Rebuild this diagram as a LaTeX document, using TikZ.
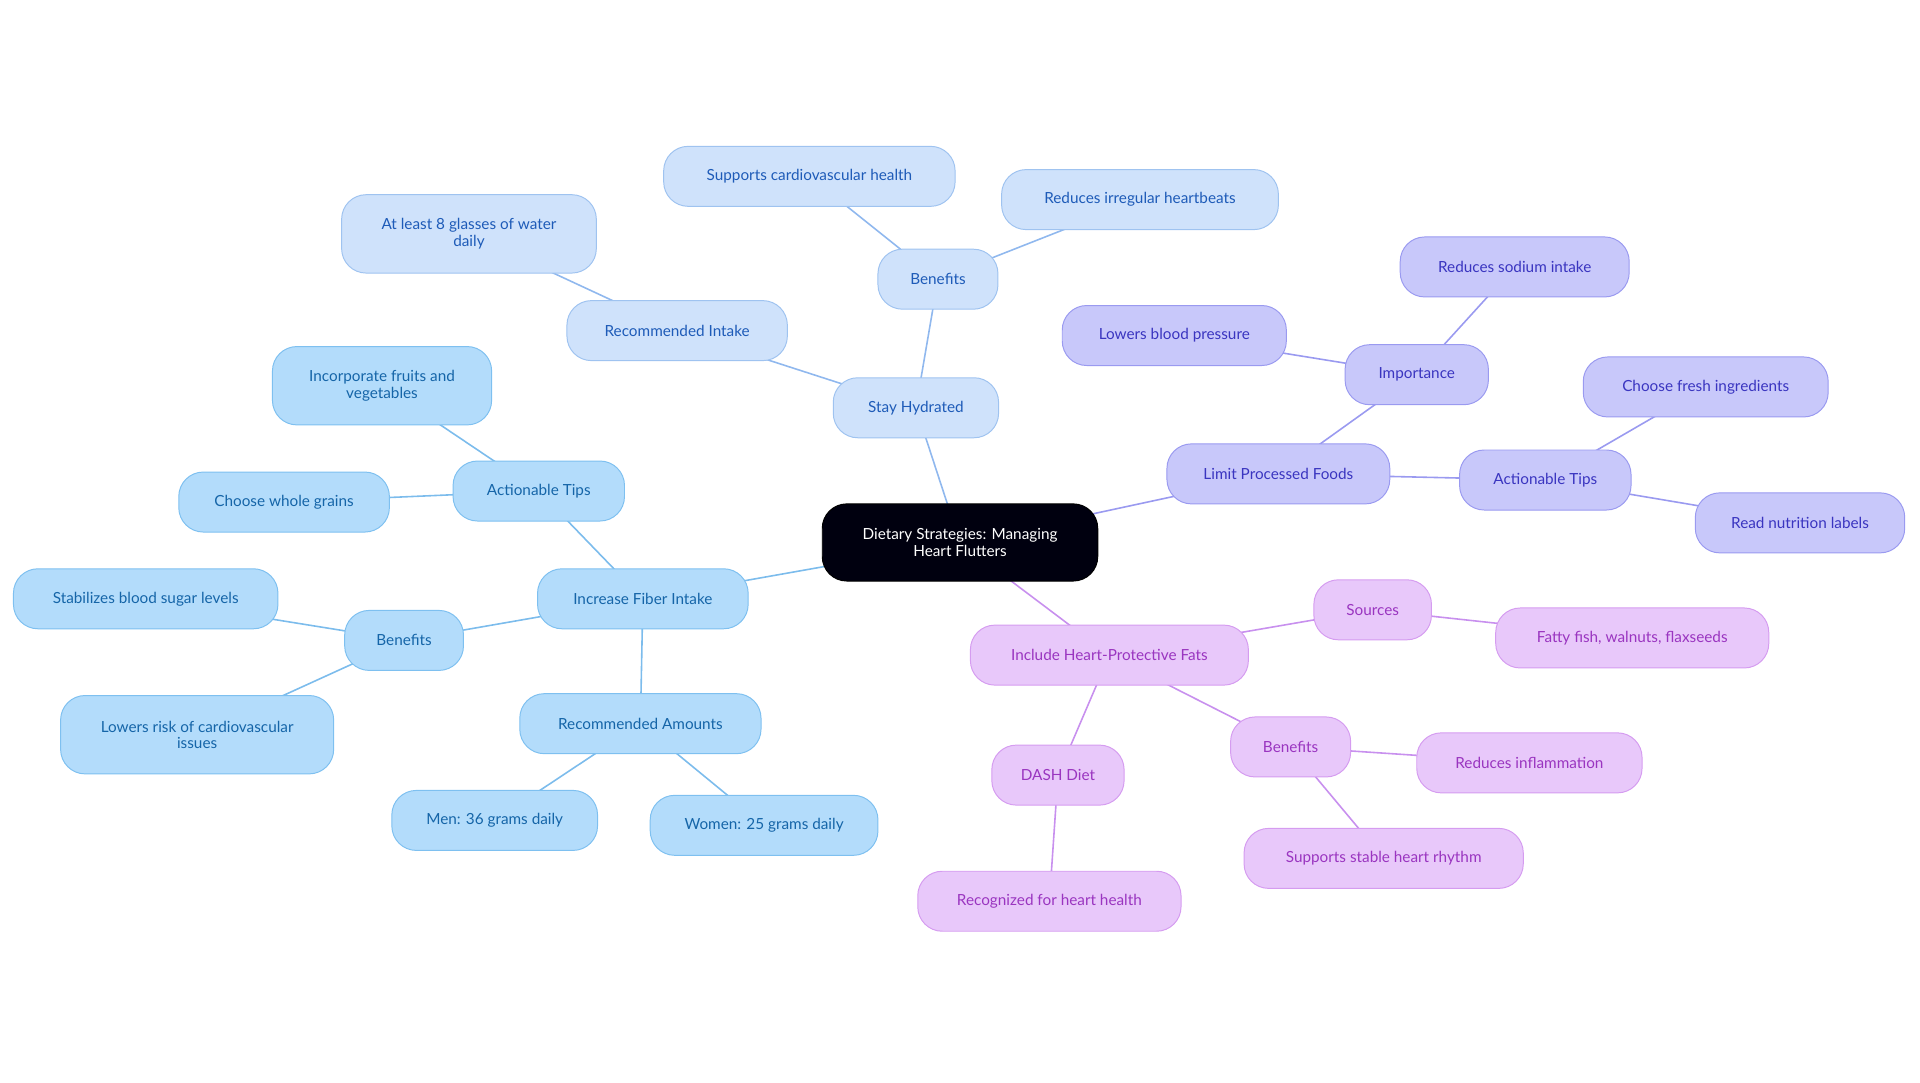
\documentclass[tikz,border=0pt]{standalone}
\usepackage{fontspec}
\setmainfont{Lato}
\usetikzlibrary{backgrounds}
\definecolor{lbF}{HTML}{CFE2FB}\definecolor{lbD}{HTML}{9FC3F0}\definecolor{lbT}{HTML}{1E5BB8}\definecolor{lbE}{HTML}{90B8EE}
\definecolor{skF}{HTML}{B3DCFB}\definecolor{skD}{HTML}{7EC0F0}\definecolor{skT}{HTML}{1565A8}\definecolor{skE}{HTML}{7CBCEC}
\definecolor{puF}{HTML}{C8C8FA}\definecolor{puD}{HTML}{9A9AF0}\definecolor{puT}{HTML}{3A35C0}\definecolor{puE}{HTML}{9A9AF0}
\definecolor{laF}{HTML}{E8C8FA}\definecolor{laD}{HTML}{D59CF0}\definecolor{laT}{HTML}{9A35C0}\definecolor{laE}{HTML}{C890EE}
\tikzset{
 box/.style={draw, line width=0.8pt, inner sep=0pt, minimum height=49pt, rounded corners=20pt, align=center, font=\fontsize{12.5}{13.5}\selectfont},
 lb/.style={box, fill=lbF, draw=lbD, text=lbT},
 sk/.style={box, fill=skF, draw=skD, text=skT},
 pu/.style={box, fill=puF, draw=puD, text=puT},
 la/.style={box, fill=laF, draw=laD, text=laT},
 tall/.style={minimum height=64pt},
 elb/.style={draw=lbE, line width=1.3pt},
 esk/.style={draw=skE, line width=1.3pt},
 epu/.style={draw=puE, line width=1.3pt},
 ela/.style={draw=laE, line width=1.3pt},
}
\begin{document}
\begin{tikzpicture}[x=1pt,y=-1pt]
\useasboundingbox (0,0) rectangle (1568,884);
\node[box, fill=black!90!blue!60!black, draw=black, text=white, minimum width=225pt, minimum height=63pt] (c) at (784,443) {Dietary Strategies: Managing\\Heart Flutters};
% Stay Hydrated
\node[lb, minimum width=135pt] (sh) at (748,333) {Stay Hydrated};
\node[lb, minimum width=98pt] (shb) at (766,228) {Benefits};
\node[lb, minimum width=238pt] (shb1) at (661,144) {Supports cardiovascular health};
\node[lb, minimum width=226pt] (shb2) at (931,163) {Reduces irregular heartbeats};
\node[lb, minimum width=180pt] (shr) at (553,270) {Recommended Intake};
\node[lb, tall, minimum width=208pt] (shr1) at (383,191) {At least 8 glasses of water\\daily};
% Fiber
\node[sk, minimum width=172pt] (fi) at (525,489) {Increase Fiber Intake};
\node[sk, minimum width=140pt] (fia) at (440,401) {Actionable Tips};
\node[sk, tall, minimum width=179pt] (fia1) at (312,315) {Incorporate fruits and\\vegetables};
\node[sk, minimum width=172pt] (fia2) at (232,410) {Choose whole grains};
\node[sk, minimum width=97pt] (fib) at (330,523) {Benefits};
\node[sk, minimum width=216pt] (fib1) at (119,489) {Stabilizes blood sugar levels};
\node[sk, tall, minimum width=223pt] (fib2) at (161,600) {Lowers risk of cardiovascular\\issues};
\node[sk, minimum width=197pt] (fir) at (523,591) {Recommended Amounts};
\node[sk, minimum width=168pt] (fir1) at (404,670) {Men: 36 grams daily};
\node[sk, minimum width=186pt] (fir2) at (624,674) {Women: 25 grams daily};
% Processed
\node[pu, minimum width=182pt] (lp) at (1044,387) {Limit Processed Foods};
\node[pu, minimum width=117pt] (lpi) at (1157,306) {Importance};
\node[pu, minimum width=183pt] (lpi1) at (959,274) {Lowers blood pressure};
\node[pu, minimum width=187pt] (lpi2) at (1237,218) {Reduces sodium intake};
\node[pu, minimum width=140pt] (lpa) at (1262,392) {Actionable Tips};
\node[pu, minimum width=200pt] (lpa1) at (1393,316) {Choose fresh ingredients};
\node[pu, minimum width=171pt] (lpa2) at (1470,427) {Read nutrition labels};
% Fats
\node[la, minimum width=227pt] (hf) at (906,535) {Include Heart-Protective Fats};
\node[la, minimum width=96pt] (hfs) at (1121,498) {Sources};
\node[la, minimum width=223pt] (hfs1) at (1333,521) {Fatty fish, walnuts, flaxseeds};
\node[la, minimum width=98pt] (hfb) at (1054,610) {Benefits};
\node[la, minimum width=184pt] (hfb1) at (1249,623) {Reduces inflammation};
\node[la, minimum width=228pt] (hfb2) at (1130,701) {Supports stable heart rhythm};
\node[la, minimum width=108pt] (hfd) at (864,633) {DASH Diet};
\node[la, minimum width=215pt] (hfd1) at (857,736) {Recognized for heart health};
\begin{scope}[on background layer]
\draw[elb] (c.center)--(sh.center) (sh.center)--(shb.center) (shb.center)--(shb1.center) (shb.center)--(shb2.center) (sh.center)--(shr.center) (shr.center)--(shr1.center);
\draw[esk] (c.center)--(fi.center) (fi.center)--(fia.center) (fia.center)--(fia1.center) (fia.center)--(fia2.center) (fi.center)--(fib.center) (fib.center)--(fib1.center) (fib.center)--(fib2.center) (fi.center)--(fir.center) (fir.center)--(fir1.center) (fir.center)--(fir2.center);
\draw[epu] (c.center)--(lp.center) (lp.center)--(lpi.center) (lpi.center)--(lpi1.center) (lpi.center)--(lpi2.center) (lp.center)--(lpa.center) (lpa.center)--(lpa1.center) (lpa.center)--(lpa2.center);
\draw[ela] (c.center)--(hf.center) (hf.center)--(hfs.center) (hfs.center)--(hfs1.center) (hf.center)--(hfb.center) (hfb.center)--(hfb1.center) (hfb.center)--(hfb2.center) (hf.center)--(hfd.center) (hfd.center)--(hfd1.center);
\end{scope}
\end{tikzpicture}
\end{document}
